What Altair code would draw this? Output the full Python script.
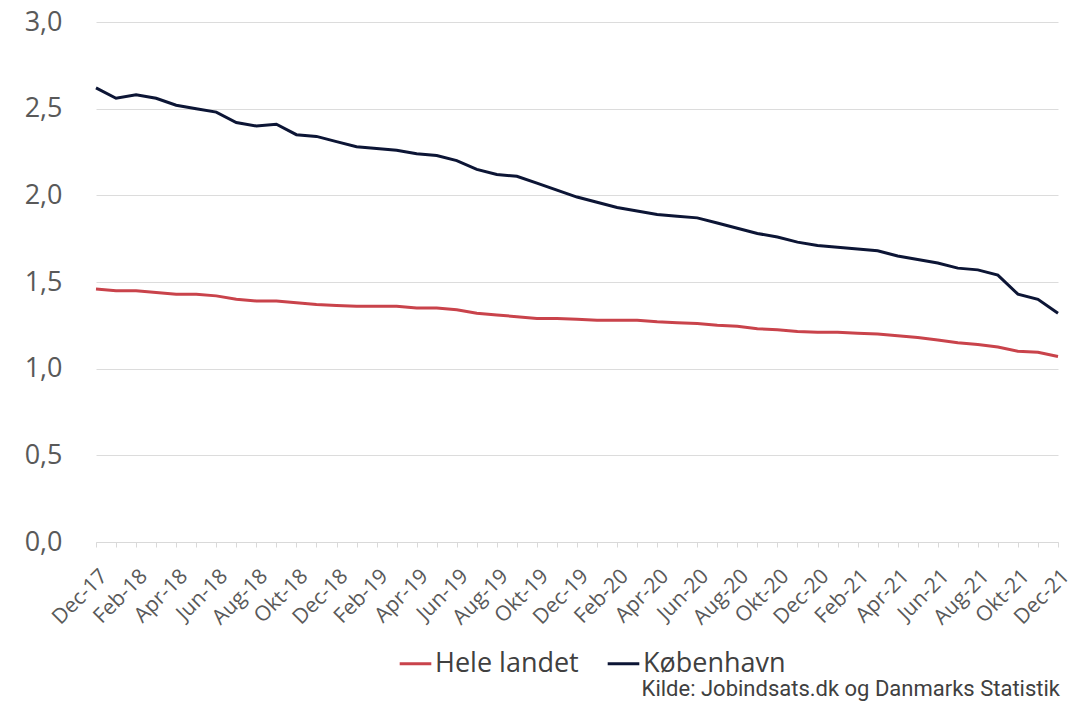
import altair as alt
import pandas as pd

month_abbr = ["Jan", "Feb", "Mar", "Apr", "Maj", "Jun", "Jul", "Aug", "Sep", "Okt", "Nov", "Dec"]
months = ["Dec-17"] + [f"{m}-{y}" for y in ["18", "19", "20", "21"] for m in month_abbr]
shown_labels = months[::2]

kobenhavn = [2.62, 2.56, 2.58, 2.56, 2.52, 2.50, 2.48, 2.42, 2.40, 2.41,
             2.35, 2.34, 2.31, 2.28, 2.27, 2.26, 2.24, 2.23, 2.20, 2.15,
             2.12, 2.11, 2.07, 2.03, 1.99, 1.96, 1.93, 1.91, 1.89, 1.88,
             1.87, 1.84, 1.81, 1.78, 1.76, 1.73, 1.71, 1.70, 1.69, 1.68,
             1.65, 1.63, 1.61, 1.58, 1.57, 1.54, 1.43, 1.40, 1.32]
hele_landet = [1.46, 1.45, 1.45, 1.44, 1.43, 1.43, 1.42, 1.40, 1.39, 1.39,
               1.38, 1.37, 1.365, 1.36, 1.36, 1.36, 1.35, 1.35, 1.34, 1.32,
               1.31, 1.30, 1.29, 1.29, 1.285, 1.28, 1.28, 1.28, 1.27, 1.265,
               1.26, 1.25, 1.245, 1.23, 1.225, 1.215, 1.21, 1.21, 1.205, 1.20,
               1.19, 1.18, 1.165, 1.15, 1.14, 1.125, 1.10, 1.095, 1.07]
series_names = ["Hele landet", "København"]
series_colors = ["#c9434b", "#0c1535"]
source_text = "Kilde: Jobindsats.dk og Danmarks Statistik"

rows = []
for i, m in enumerate(months):
    rows.append({"month": m, "serie": series_names[0], "value": hele_landet[i]})
    rows.append({"month": m, "serie": series_names[1], "value": kobenhavn[i]})
df = pd.DataFrame(rows)

font = "Open Sans"
label_list = "[" + ",".join(f"'{s}'" for s in shown_labels) + "]"

chart = alt.Chart(df).mark_line(strokeWidth=3).encode(
    x=alt.X("month:O", sort=months,
            scale=alt.Scale(type="point", range=[14, 976], padding=0),
            axis=alt.Axis(title=None, labelAngle=-45, labelFontSize=21,
                          labelColor="#595959", labelFont=font,
                          labelExpr=f"indexof({label_list}, datum.value) >= 0 ? datum.value : ''",
                          labelOverlap=False, labelPadding=18,
                          domainColor="#d9d9d9", tickColor="#d9d9d9", tickSize=5,
                          grid=False)),
    y=alt.Y("value:Q", scale=alt.Scale(domain=[0, 3]),
            axis=alt.Axis(title=None, values=[0, 0.5, 1, 1.5, 2, 2.5, 3],
                          labelExpr="replace(format(datum.value, '.1f'), '.', ',')",
                          labelFontSize=27, labelColor="#595959", labelFont=font,
                          labelPadding=20, domain=False, ticks=False,
                          gridColor="#dcdcdc", gridWidth=1)),
    color=alt.Color("serie:N", sort=series_names,
                    scale=alt.Scale(domain=series_names, range=series_colors),
                    legend=alt.Legend(title=None, orient="none", legendX=316, legendY=624,
                                      direction="horizontal", symbolType="stroke",
                                      symbolStrokeWidth=3, symbolSize=1000,
                                      labelFontSize=27, labelColor="#404040",
                                      labelFont=font, columnPadding=22,
                                      labelOffset=2)),
).properties(
    width=982, height=520,
    autosize=alt.AutoSizeParams(type="none"),
    padding={"left": 74, "top": 14, "right": 4, "bottom": 161},
    title=alt.TitleParams(source_text, orient="bottom", frame="group",
                          anchor="end", fontSize=22, font="Roboto", fontWeight="normal",
                          color="#404040", offset=2, dx=-4),
).configure_view(stroke=None)

chart.save("out.html", embed_options={"renderer": "svg", "actions": False})
